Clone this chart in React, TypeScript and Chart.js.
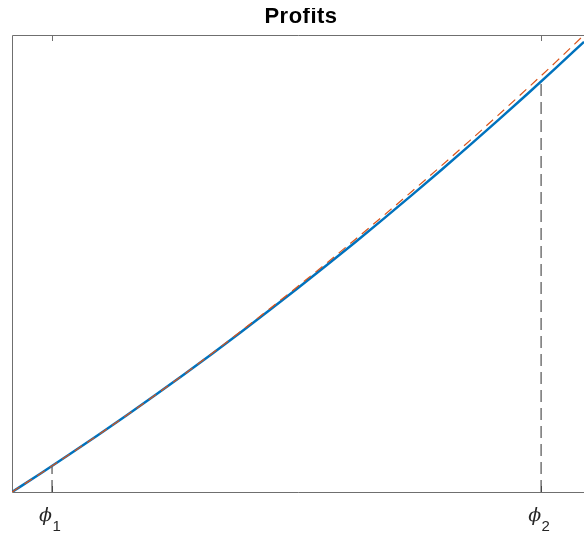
import React, { useEffect, useRef } from "react";
import { Chart, registerables } from "chart.js";

Chart.register(...registerables);

// x positions (normalized phi axis)
const xVals = [0, 0.05, 0.1, 0.15, 0.2, 0.25, 0.3, 0.35, 0.4, 0.45, 0.5, 0.55, 0.6, 0.65, 0.7, 0.75, 0.8, 0.85, 0.9, 0.95, 1.0];
// solid blue profit curve
const profitVals = [0, 0.0405, 0.0819, 0.1242, 0.1674, 0.2116, 0.2567, 0.3027, 0.3496, 0.3975, 0.4463, 0.496, 0.5466, 0.5982, 0.6507, 0.7041, 0.7584, 0.8137, 0.8699, 0.927, 0.985];
// dashed red approximation
const approxVals = [0, 0.0405, 0.0819, 0.1242, 0.1674, 0.2116, 0.2567, 0.3037, 0.3516, 0.4005, 0.4503, 0.501, 0.5526, 0.6052, 0.6587, 0.7131, 0.7684, 0.8247, 0.8819, 0.94, 1.0];
// tick positions and labels
const phiPos = [0.07, 0.925];
const phiProfit = [0.057, 0.8983];
const phiSubs = ["1", "2"];
const titleText = "Profits";

const AXIS = "#6f6f6f";
const TEXT = "#262626";

export default function App() {
  const ref = useRef<HTMLCanvasElement | null>(null);
  useEffect(() => {
    if (!ref.current) return;
    const boxPlugin = {
      id: "box",
      beforeDatasetsDraw(chart: any) {
        const { ctx, chartArea } = chart;
        const { left, top, right, bottom } = chartArea;
        const xs = chart.scales.x;
        ctx.save();
        ctx.strokeStyle = AXIS;
        ctx.lineWidth = 1;
        ctx.beginPath();
        ctx.moveTo(right + 2, top + 0.5);
        ctx.lineTo(left + 0.5, top + 0.5);
        ctx.lineTo(left + 0.5, bottom + 0.5);
        ctx.lineTo(right + 2, bottom + 0.5);
        for (const p of phiPos) {
          const px = Math.round(xs.getPixelForValue(p)) + 0.5;
          ctx.moveTo(px, top);
          ctx.lineTo(px, top + 6);
          ctx.moveTo(px, bottom);
          ctx.lineTo(px, bottom - 6);
        }
        ctx.stroke();
        ctx.restore();
      },
      afterDraw(chart: any) {
        const { ctx, chartArea } = chart;
        const xs = chart.scales.x;
        ctx.save();
        ctx.fillStyle = TEXT;
        phiPos.forEach((p, i) => {
          const px = xs.getPixelForValue(p);
          ctx.font = "italic 19px 'DejaVu Serif'";
          ctx.textAlign = "right";
          ctx.textBaseline = "alphabetic";
          ctx.fillText("\u03D5", px, chartArea.bottom + 29);
          ctx.font = "15px 'Liberation Sans'";
          ctx.textAlign = "left";
          ctx.fillText(phiSubs[i], px + 0.5, chartArea.bottom + 39);
        });
        ctx.font = "bold 22px 'Liberation Sans'";
        ctx.textAlign = "center";
        ctx.textBaseline = "alphabetic";
        (ctx as any).letterSpacing = "0.5px";
        ctx.fillStyle = "#000";
        ctx.fillText(titleText, 293, 15);
        ctx.restore();
      },
    };

    const chart = new Chart(ref.current, {
      type: "line",
      data: {
        datasets: [
          {
            label: "approx",
            data: xVals.map((x, i) => ({ x, y: approxVals[i] })),
            borderColor: "#D95319",
            borderWidth: 1.2,
            borderDash: [9, 6],
            pointRadius: 0,
            cubicInterpolationMode: "monotone",
            order: 0,
          },
          {
            label: "profit",
            data: xVals.map((x, i) => ({ x, y: profitVals[i] })),
            borderColor: "#0072BD",
            borderWidth: 2.5,
            pointRadius: 0,
            cubicInterpolationMode: "monotone",
            order: 1,
          },
          ...phiPos.map((p, i) => ({
            label: "phi" + phiSubs[i],
            data: [
              { x: p, y: 0 },
              { x: p, y: phiProfit[i] },
            ],
            borderColor: "rgba(40,40,40,0.75)",
            borderWidth: 1.3,
            borderDash: [12, 6],
            pointRadius: 0,
            order: 2,
          })),
        ],
      },
      options: {
        animation: false,
        responsive: false,
        layout: { padding: { left: 4, top: 27, right: 0, bottom: 43 } },
        plugins: { legend: { display: false }, tooltip: { enabled: false }, title: { display: false } },
        scales: {
          x: { type: "linear", min: 0, max: 1, display: false },
          y: { type: "linear", min: 0, max: 1, display: false },
        },
      },
      plugins: [boxPlugin],
    });
    return () => chart.destroy();
  }, []);
  return (
    <canvas
      ref={ref}
      width={576}
      height={527}
      style={{ display: "block", position: "fixed", left: 8, top: 8 }}
    />
  );
}
